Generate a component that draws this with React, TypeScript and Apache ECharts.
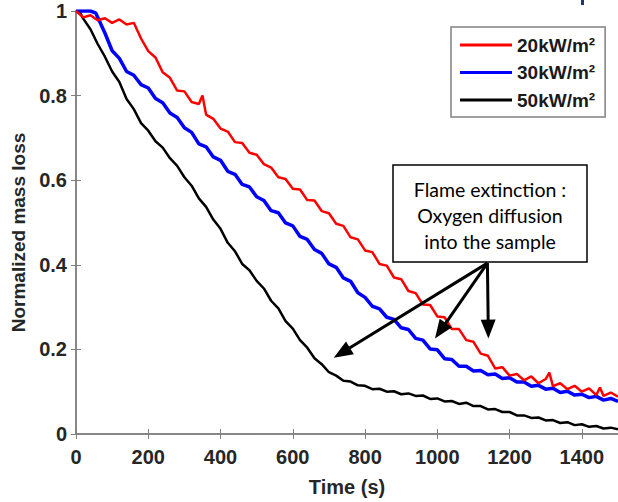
import React, { useEffect, useRef } from "react";
import * as echarts from "echarts";

const xTicks = [0, 200, 400, 600, 800, 1000, 1200, 1400];
const yTicks = [0, 0.2, 0.4, 0.6, 0.8, 1];
const seriesNames = ["20kW/m²", "30kW/m²", "50kW/m²"];

const red20: [number, number][] = [
  [0, 1], [20, 0.985], [40, 0.99], [60, 0.978], [80, 0.983], [100, 0.972], [120, 0.98], [140, 0.968],
  [160, 0.972], [180, 0.935], [200, 0.905], [220, 0.89], [240, 0.855], [260, 0.842], [280, 0.812],
  [300, 0.81], [320, 0.785], [340, 0.78], [350, 0.8], [360, 0.755], [380, 0.745], [400, 0.722],
  [420, 0.715], [440, 0.69], [460, 0.688], [480, 0.665], [500, 0.66], [520, 0.638], [540, 0.63],
  [560, 0.607], [580, 0.603], [600, 0.58], [620, 0.578], [640, 0.553], [660, 0.552], [680, 0.527],
  [700, 0.522], [720, 0.497], [740, 0.492], [760, 0.465], [780, 0.46], [800, 0.434], [820, 0.43],
  [840, 0.402], [860, 0.398], [880, 0.37], [900, 0.366], [920, 0.338], [940, 0.333], [960, 0.306],
  [980, 0.305], [1000, 0.278], [1020, 0.276], [1040, 0.248], [1060, 0.248], [1080, 0.222],
  [1100, 0.218], [1120, 0.19], [1140, 0.185], [1160, 0.155], [1180, 0.158], [1200, 0.138],
  [1220, 0.142], [1240, 0.127], [1260, 0.136], [1280, 0.12], [1300, 0.13], [1310, 0.145],
  [1320, 0.113], [1340, 0.12], [1360, 0.106], [1380, 0.114], [1400, 0.1], [1420, 0.108],
  [1440, 0.092], [1450, 0.11], [1460, 0.09], [1480, 0.098], [1500, 0.088],
];

const blue30: [number, number][] = [
  [0, 1], [20, 1], [40, 1], [55, 0.995], [60, 0.985], [80, 0.948], [100, 0.906], [120, 0.888],
  [140, 0.857], [160, 0.848], [180, 0.826], [200, 0.818], [220, 0.793], [240, 0.783], [260, 0.759],
  [280, 0.748], [300, 0.724], [320, 0.713], [340, 0.686], [360, 0.679], [380, 0.655], [400, 0.647],
  [420, 0.621], [440, 0.614], [460, 0.59], [480, 0.584], [500, 0.561], [520, 0.552], [540, 0.528],
  [560, 0.523], [580, 0.499], [600, 0.492], [620, 0.467], [640, 0.46], [660, 0.436], [680, 0.427],
  [700, 0.402], [720, 0.394], [740, 0.369], [760, 0.361], [780, 0.334], [800, 0.323], [820, 0.302],
  [840, 0.296], [860, 0.276], [880, 0.271], [900, 0.251], [920, 0.247], [940, 0.226], [960, 0.222],
  [980, 0.201], [1000, 0.199], [1020, 0.178], [1040, 0.176], [1060, 0.16], [1080, 0.16],
  [1100, 0.149], [1120, 0.15], [1140, 0.14], [1160, 0.142], [1180, 0.131], [1200, 0.133],
  [1220, 0.123], [1240, 0.123], [1260, 0.113], [1280, 0.115], [1300, 0.106], [1320, 0.108],
  [1340, 0.098], [1360, 0.101], [1380, 0.092], [1400, 0.094], [1420, 0.086], [1440, 0.089],
  [1460, 0.08], [1480, 0.084], [1500, 0.077],
];

const black50: [number, number][] = [
  [0, 1], [10, 0.998], [20, 0.982], [40, 0.957], [60, 0.922], [80, 0.892], [100, 0.857],
  [120, 0.832], [140, 0.792], [160, 0.768], [180, 0.735], [200, 0.717], [220, 0.692], [240, 0.677],
  [260, 0.652], [280, 0.634], [300, 0.607], [320, 0.587], [340, 0.557], [360, 0.537], [380, 0.507],
  [400, 0.485], [420, 0.452], [440, 0.432], [460, 0.402], [480, 0.387], [500, 0.362], [520, 0.344],
  [540, 0.315], [560, 0.297], [580, 0.267], [600, 0.249], [620, 0.222], [640, 0.204], [660, 0.179],
  [680, 0.165], [700, 0.146], [720, 0.138], [740, 0.126], [760, 0.124], [780, 0.115], [800, 0.114],
  [820, 0.106], [840, 0.107], [860, 0.1], [880, 0.101], [900, 0.094], [920, 0.096], [940, 0.09],
  [960, 0.091], [980, 0.083], [1000, 0.084], [1020, 0.077], [1040, 0.078], [1060, 0.071],
  [1080, 0.074], [1100, 0.066], [1120, 0.066], [1140, 0.058], [1160, 0.059], [1180, 0.052],
  [1200, 0.052], [1220, 0.044], [1240, 0.044], [1260, 0.038], [1280, 0.039], [1300, 0.032],
  [1320, 0.033], [1340, 0.026], [1360, 0.028], [1380, 0.021], [1400, 0.023], [1420, 0.017],
  [1440, 0.019], [1460, 0.013], [1480, 0.015], [1500, 0.011],
];

// annotation arrows (data coordinates): origin and arrow-head centers
const arrowOrigin: [number, number] = [1138.6, 0.404];
const arrowEnds: [number, number][] = [
  [735.7, 0.192],
  [1008.5, 0.244],
  [1141, 0.248],
];
const noteLines = ["Flame extinction :", "Oxygen diffusion", "into the sample"];

export default function App() {
  const ref = useRef<HTMLDivElement>(null);
  useEffect(() => {
    document.body.style.margin = "0";
    if (!ref.current) return;
    const chart = echarts.init(ref.current, null, { renderer: "svg" });
    const font = "Liberation Sans";
    const axisGray = "#808080";
    const labelColor = "#262626";
    const option: any = {
      animation: false,
      backgroundColor: "#ffffff",
      grid: { left: 76, top: 11, width: 546, height: 423, containLabel: false },
      legend: {
        data: seriesNames,
        orient: "vertical",
        left: 451,
        top: 27,
        icon: "rect",
        itemWidth: 52,
        itemHeight: 3,
        itemGap: 7.5,
        padding: [8, 10, 7, 9],
        borderColor: axisGray,
        borderWidth: 1.5,
        backgroundColor: "#ffffff",
        textStyle: { fontFamily: font, fontWeight: "bold", fontSize: 19, color: "#1a1a1a", lineHeight: 20 },
        selectedMode: false,
      },
      xAxis: [
        {
          type: "value",
          min: 0,
          max: 1500,
          interval: 200,
          name: "Time (s)",
          nameLocation: "middle",
          nameGap: 43,
          nameTextStyle: { fontFamily: font, fontWeight: "bold", fontSize: 20, color: labelColor },
          axisLine: { show: true, lineStyle: { color: axisGray, width: 1.5 } },
          axisTick: { show: true, inside: true, length: 5, lineStyle: { color: axisGray } },
          axisLabel: {
            showMaxLabel: false,
            margin: 13,
            fontFamily: font,
            fontWeight: "bold",
            fontSize: 20,
            color: labelColor,
            formatter: (v: number) => (xTicks.includes(v) ? String(v) : ""),
          },
          splitLine: { show: false },
        },
        {
          type: "value",
          position: "top",
          min: 0,
          max: 1500,
          interval: 200,
          axisLine: { show: true, lineStyle: { color: axisGray, width: 1.5 } },
          axisTick: { show: true, inside: true, length: 5, lineStyle: { color: axisGray } },
          axisLabel: { show: false },
          splitLine: { show: false },
        },
      ],
      yAxis: [
        {
          type: "value",
          min: 0,
          max: 1,
          interval: 0.2,
          name: "Normalized mass loss",
          nameLocation: "middle",
          nameGap: 46,
          nameTextStyle: {
            fontFamily: font,
            fontWeight: "bold",
            fontSize: 19,
            color: labelColor,
            padding: [0, 20, 0, 0],
          },
          axisLine: { show: true, lineStyle: { color: axisGray, width: 1.5 } },
          axisTick: { show: true, inside: true, length: 5, lineStyle: { color: axisGray } },
          axisLabel: {
            margin: 9,
            fontFamily: font,
            fontWeight: "bold",
            fontSize: 20,
            color: labelColor,
            formatter: (v: number) => {
              const r = Math.round(v * 10) / 10;
              return yTicks.includes(r) ? String(r) : "";
            },
          },
          splitLine: { show: false },
        },
        {
          type: "value",
          position: "right",
          min: 0,
          max: 1,
          interval: 0.2,
          axisLine: { show: true, lineStyle: { color: axisGray, width: 1.5 } },
          axisTick: { show: true, inside: true, length: 5, lineStyle: { color: axisGray } },
          axisLabel: { show: false },
          splitLine: { show: false },
        },
      ],
      series: [
        {
          name: seriesNames[2],
          type: "line",
          data: black50,
          showSymbol: false,
          color: "#000000",
          lineStyle: { color: "#000000", width: 2.5 },
          z: 2,
        },
        {
          name: seriesNames[1],
          type: "line",
          data: blue30,
          showSymbol: false,
          color: "#0000ff",
          lineStyle: { color: "#0000ff", width: 3.5 },
          z: 3,
        },
        {
          name: seriesNames[0],
          type: "line",
          data: red20,
          showSymbol: false,
          color: "#ff0000",
          lineStyle: { color: "#ff0000", width: 2.5 },
          z: 4,
          markLine: {
            silent: true,
            animation: false,
            symbol: ["none", "triangle"],
            symbolSize: [15, 19],
            label: { show: false },
            lineStyle: { color: "#000000", width: 3, type: "solid" },
            itemStyle: { color: "#000000" },
            z: 10,
            data: arrowEnds.map((e) => [
              { coord: arrowOrigin, lineStyle: { color: "#000000", width: 3, type: "solid" } },
              { coord: e, lineStyle: { color: "#000000", width: 3, type: "solid" } },
            ]),
          },
        },
      ],
      graphic: [
        {
          type: "rect",
          shape: { x: 393, y: 165, width: 194, height: 97 },
          style: { fill: "#ffffff", stroke: "#000000", lineWidth: 1.5 },
          z: 100,
        },
        ...noteLines.map((t, i) => ({
          type: "text",
          x: 490,
          y: 189 + i * 26,
          style: {
            text: t,
            fontFamily: "Lato",
            fontSize: 19.5,
            fill: "#000000",
            align: "center",
            verticalAlign: "middle",
          },
          z: 101,
        })),
        {
          type: "rect",
          shape: { x: 581, y: 0, width: 3, height: 5 },
          style: { fill: "#1f3864" },
          z: 100,
        },
      ],
    };
    chart.setOption(option);
    return () => chart.dispose();
  }, []);
  return <div ref={ref} style={{ width: 618, height: 502 }} />;
}
